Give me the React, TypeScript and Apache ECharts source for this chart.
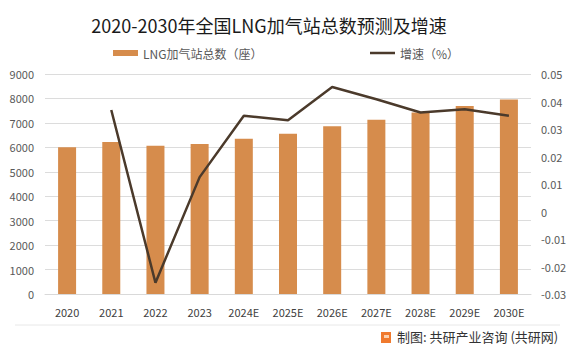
import React, { useEffect, useRef } from "react";
import * as echarts from "echarts";

const categories = ["2020", "2021", "2022", "2023", "2024E", "2025E", "2026E", "2027E", "2028E", "2029E", "2030E"];
const stationCounts = [6000, 6220, 6060, 6135, 6350, 6560, 6860, 7130, 7420, 7690, 7960];
const growthRates = [null, 0.0369, -0.0259, 0.0125, 0.0348, 0.0332, 0.0453, 0.0408, 0.036, 0.0372, 0.0348];
const titleText = "2020-2030年全国LNG加气站总数预测及增速";
const barName = "LNG加气站总数（座）";
const lineName = "增速（%）";
const sourceText = "制图: 共研产业咨询 (共研网)";

const FONT = "'Noto Sans CJK SC', 'Noto Sans', sans-serif";

export default function App() {
  const ref = useRef<HTMLDivElement>(null);
  useEffect(() => {
    document.body.style.margin = "0";
    if (!ref.current) return;
    const chart = echarts.init(ref.current, null, { renderer: "svg" });
    chart.setOption({
      animation: false,
      backgroundColor: "#ffffff",
      textStyle: { fontFamily: FONT },
      title: {
        text: titleText,
        left: 264,
        textAlign: "center",
        top: 11,
        textStyle: { fontSize: 18, fontWeight: "normal", color: "#1a1a1a", fontFamily: FONT },
      },
      legend: [
        {
          data: [{ name: barName, icon: "rect" }],
          left: 108,
          top: 42,
          itemWidth: 25,
          itemHeight: 6,
          itemGap: 4,
          textStyle: { fontSize: 12, color: "#595959", fontFamily: FONT },
        },
        {
          data: [{ name: lineName, icon: "rect" }],
          left: 365,
          top: 42,
          itemWidth: 25,
          itemHeight: 2.5,
          textStyle: { fontSize: 12, color: "#595959", fontFamily: FONT },
        },
      ],
      grid: { left: 45, right: 40, top: 74, bottom: 61 },
      xAxis: {
        type: "category",
        data: categories,
        axisTick: { show: false },
        axisLine: { lineStyle: { color: "#d9d9d9" } },
        axisLabel: { color: "#404040", fontSize: 11, margin: 12, fontFamily: FONT },
      },
      yAxis: [
        {
          type: "value",
          min: 0,
          max: 9000,
          interval: 1000,
          axisLine: { show: false },
          axisTick: { show: false },
          splitLine: { lineStyle: { color: "#dcdcdc" } },
          axisLabel: {
            color: "#595959",
            fontSize: 11,
            margin: 11,
            fontFamily: FONT,
            formatter: (v: number) => String(v),
          },
        },
        {
          type: "value",
          min: -0.03,
          max: 0.05,
          interval: 0.01,
          position: "right",
          axisLine: { show: false },
          axisTick: { show: false },
          splitLine: { show: false },
          axisLabel: {
            color: "#595959",
            fontSize: 11,
            margin: 10,
            fontFamily: FONT,
            formatter: (v: number) => String(parseFloat(v.toFixed(2))),
          },
        },
      ],
      series: [
        {
          name: barName,
          type: "bar",
          data: stationCounts,
          barWidth: 18,
          itemStyle: { color: "#D68C4C" },
        },
        {
          name: lineName,
          type: "line",
          yAxisIndex: 1,
          data: growthRates,
          showSymbol: false,
          symbol: "none",
          lineStyle: { color: "#4B3A2B", width: 2.5 },
          itemStyle: { color: "#4B3A2B" },
        },
      ],
      graphic: [
        {
          type: "line",
          shape: { x1: 15, y1: 325, x2: 560, y2: 325 },
          style: { stroke: "#e8e8e8", lineWidth: 1 },
        },
        {
          type: "rect",
          shape: { x: 381, y: 332, width: 10, height: 11 },
          style: { fill: "#F07A2E" },
        },
        {
          type: "rect",
          shape: { x: 384, y: 335, width: 5, height: 3 },
          style: { fill: "#FBD2B0" },
        },
        {
          type: "text",
          left: 397,
          top: 330,
          style: { text: sourceText, fontSize: 13, fill: "#333333", fontFamily: FONT },
        },
      ],
    });
    return () => chart.dispose();
  }, []);
  return <div ref={ref} style={{ width: 571, height: 355 }} />;
}
